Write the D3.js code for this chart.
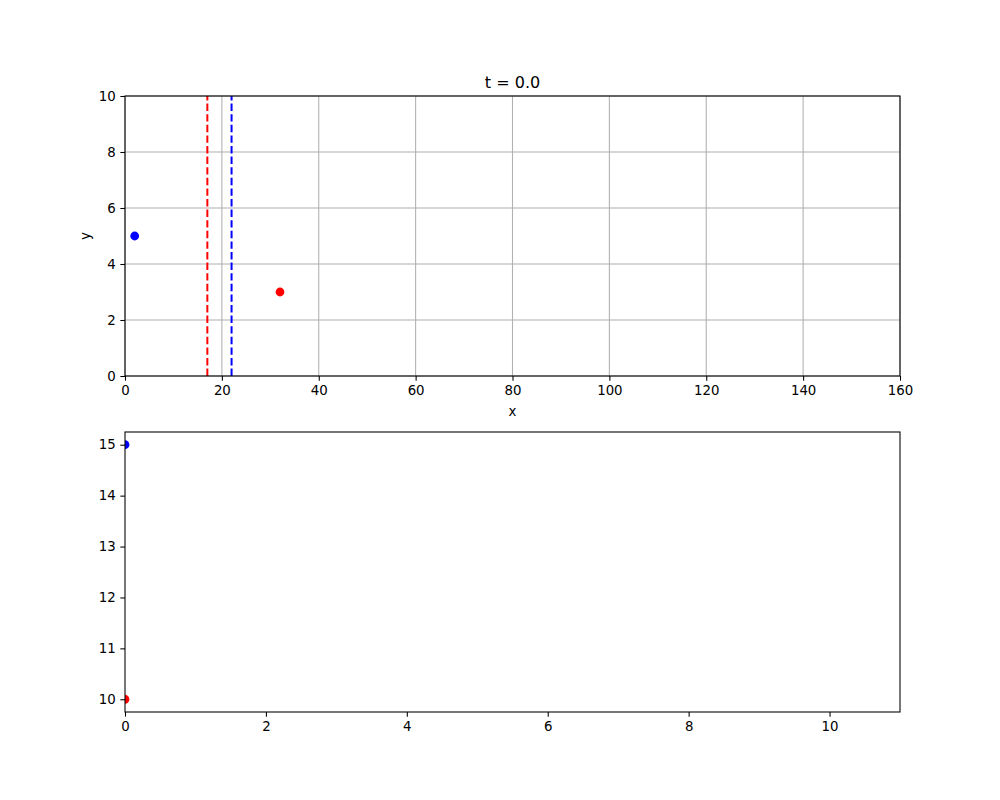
<!DOCTYPE html>
<html><head><meta charset="utf-8">
<script src="https://cdn.jsdelivr.net/npm/d3@7"></script>
<style>body{margin:0;background:#fff}svg{display:block}text{font-family:"DejaVu Sans",sans-serif;fill:#000}</style>
</head><body>
<script>
const titleText = "t = 0.0";
const topXTicks = [0,20,40,60,80,100,120,140,160];
const topYTicks = [0,2,4,6,8,10];
const topPoints = [{x:2,y:5,color:"blue"},{x:32,y:3,color:"red"}];
const vLines = [{x:17,color:"red"},{x:22,color:"blue"}];
const botXTicks = [0,2,4,6,8,10];
const botYTicks = [10,11,12,13,14,15];
const botPoints = [{x:0,y:15,color:"blue"},{x:0,y:10,color:"red"}];

const W=1000,H=800;
const svg=d3.select("body").append("svg").attr("width",W).attr("height",H);
const L=125,R=900;
const top1={t:96,b:376}, top2={t:432,b:712};

function axesFrame(g,x,y,box,xt,yt,grid,clipId){
  if(grid){
    g.append("g").selectAll("line").data(xt).join("line")
      .attr("x1",d=>x(d)).attr("x2",d=>x(d)).attr("y1",box.t).attr("y2",box.b)
      .attr("stroke","#b0b0b0").attr("stroke-width",0.8*4/3);
    g.append("g").selectAll("line").data(yt).join("line")
      .attr("y1",d=>y(d)).attr("y2",d=>y(d)).attr("x1",L).attr("x2",R)
      .attr("stroke","#b0b0b0").attr("stroke-width",0.8*4/3);
  }
  g.append("defs").append("clipPath").attr("id",clipId).append("rect")
    .attr("x",L).attr("y",box.t).attr("width",R-L).attr("height",box.b-box.t);
}
function axesDecor(g,x,y,box,xt,yt){
  const xa=d3.axisBottom(x).tickValues(xt).tickSize(4.67).tickPadding(4.6).tickFormat(d3.format("d"));
  const ya=d3.axisLeft(y).tickValues(yt).tickSize(4.67).tickPadding(4.6).tickFormat(d3.format("d"));
  const gx=g.append("g").attr("transform",`translate(0,${box.b})`).call(xa);
  const gy=g.append("g").attr("transform",`translate(${L},0)`).call(ya);
  [gx,gy].forEach(a=>{a.select(".domain").remove();
    a.selectAll(".tick line").attr("stroke","#000").attr("stroke-width",0.8*4/3);
    a.selectAll(".tick text").style("font-size","13.33px").style("font-family","DejaVu Sans").attr("fill","#000");});
  g.append("rect").attr("x",L).attr("y",box.t).attr("width",R-L).attr("height",box.b-box.t)
    .attr("fill","none").attr("stroke","#000").attr("stroke-width",0.8*4/3);
}

// top axes
const x1=d3.scaleLinear().domain([0,160]).range([L,R]);
const y1=d3.scaleLinear().domain([0,10]).range([top1.b,top1.t]);
const g1=svg.append("g");
axesFrame(g1,x1,y1,top1,topXTicks,topYTicks,true,"c1");
g1.append("g").attr("clip-path","url(#c1)").selectAll("line").data(vLines).join("line")
  .attr("x1",d=>x1(d.x)).attr("x2",d=>x1(d.x)).attr("y1",y1(0)).attr("y2",y1(10))
  .attr("stroke",d=>d.color).attr("stroke-width",2).attr("stroke-dasharray","7.4,3.2");
g1.append("g").attr("clip-path","url(#c1)").selectAll("circle").data(topPoints).join("circle")
  .attr("cx",d=>x1(d.x)).attr("cy",d=>y1(d.y)).attr("r",4.4).attr("fill",d=>d.color);
axesDecor(g1,x1,y1,top1,topXTicks,topYTicks);
svg.append("text").attr("x",(L+R)/2).attr("y",top1.t-8.5).attr("text-anchor","middle")
  .style("font-size","16px").text(titleText);
svg.append("text").attr("x",(L+R)/2).attr("y",416).attr("text-anchor","middle")
  .style("font-size","13.33px").text("x");
svg.append("text").attr("transform",`translate(90,${(top1.t+top1.b)/2}) rotate(-90)`).attr("text-anchor","middle")
  .style("font-size","13.33px").text("y");

// bottom axes
const x2=d3.scaleLinear().domain([0,11]).range([L,R]);
const y2=d3.scaleLinear().domain([9.75,15.25]).range([top2.b,top2.t]);
const g2=svg.append("g");
axesFrame(g2,x2,y2,top2,botXTicks,botYTicks,false,"c2");
g2.append("g").attr("clip-path","url(#c2)").selectAll("circle").data(botPoints).join("circle")
  .attr("cx",d=>x2(d.x)).attr("cy",d=>y2(d.y)).attr("r",4.4).attr("fill",d=>d.color);
axesDecor(g2,x2,y2,top2,botXTicks,botYTicks);
</script>
</body></html>
